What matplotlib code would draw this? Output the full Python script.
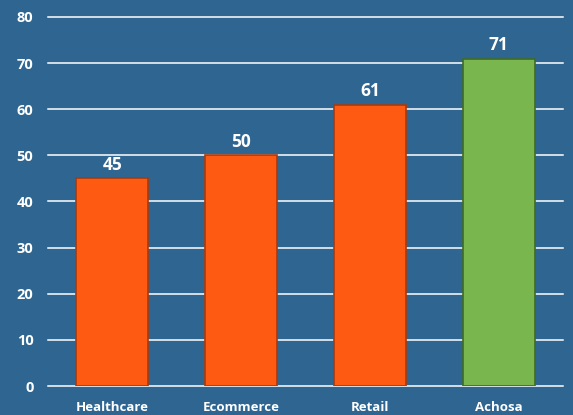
import matplotlib
matplotlib.use("Agg")
import matplotlib.pyplot as plt

categories = ["Healthcare", "Ecommerce", "Retail", "Achosa"]
values = [45, 50, 61, 71]
yticks = [0, 10, 20, 30, 40, 50, 60, 70, 80]

bg = "#2E6591"
orange = "#FF5A12"
orange_edge = "#A83A0C"
green = "#7AB64E"
green_edge = "#3E6B26"

plt.rcParams['font.family'] = ['Open Sans', 'DejaVu Sans']

fig = plt.figure(figsize=(5.73, 4.15), dpi=100, facecolor=bg)
ax = fig.add_axes([48/573, 29/415, 515/573, 369/415], facecolor=bg)

colors = [orange, orange, orange, green]
edges = [orange_edge, orange_edge, orange_edge, green_edge]
x = list(range(len(categories)))
bars = ax.bar(x, values, width=0.56, color=colors, edgecolor=edges, linewidth=1.2, zorder=3)

for xi, v in zip(x, values):
    ax.text(xi, v + 0.9, str(v), ha="center", va="bottom", color="white",
            fontsize=12.5, fontweight="bold", zorder=4)

ax.set_xlim(-0.5, len(categories) - 0.5)
ax.set_ylim(0, 80)
ax.set_yticks(yticks)
ax.set_xticks(x)
ax.set_xticklabels(categories)
for yt in yticks:
    ax.axhline(yt, color="white", linewidth=1.1, zorder=1, clip_on=False)

ax.tick_params(axis="both", length=0, colors="white")
ax.tick_params(axis="y", pad=10.5, labelsize=10.5)
ax.tick_params(axis="x", pad=11, labelsize=9.5)
for lab in ax.get_xticklabels() + ax.get_yticklabels():
    lab.set_fontweight("bold")
for s in ax.spines.values():
    s.set_visible(False)

fig.savefig("out.png", dpi=100, facecolor=bg)
